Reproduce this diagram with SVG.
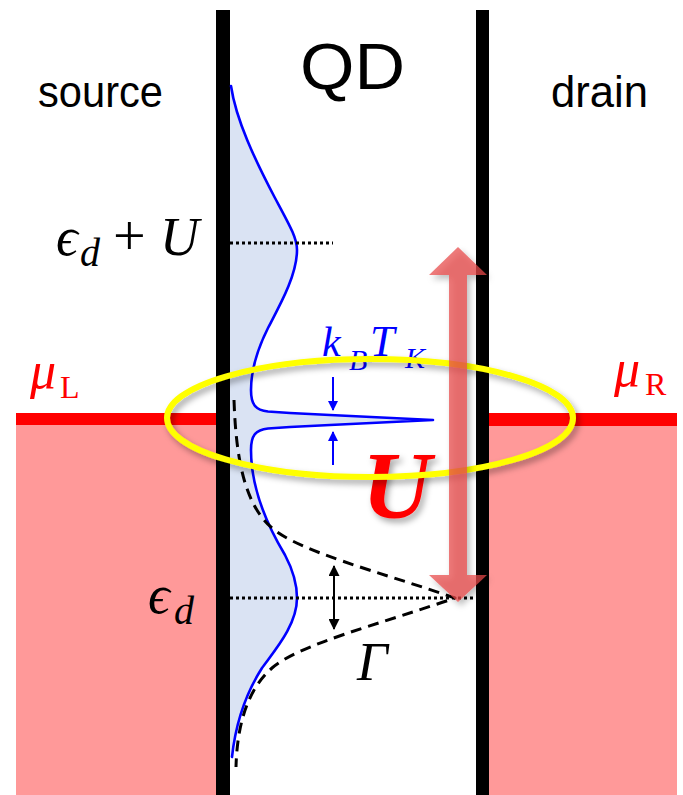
<svg xmlns="http://www.w3.org/2000/svg" width="683" height="795" viewBox="0 0 683 795">
<style>
.sans{font-family:"Liberation Sans",Arial,sans-serif;fill:#000}
.math{font-family:"Liberation Serif","DejaVu Serif",serif;font-style:italic}
.rom{font-family:"Liberation Serif","DejaVu Serif",serif;font-style:normal}
.wall{fill:#000}
.dot{stroke:#000;stroke-width:3;stroke-dasharray:3 3;fill:none}
</style>
<defs>
<filter id="sh" x="-20%" y="-20%" width="140%" height="140%">
<feDropShadow dx="3" dy="4" stdDeviation="3" flood-color="#000" flood-opacity="0.35"/>
</filter>
<marker id="bh" viewBox="0 0 10 10" refX="9" refY="5" markerWidth="10" markerHeight="10" markerUnits="userSpaceOnUse" orient="auto">
<path d="M0,0 L10,5 L0,10 z" fill="#0000ff"/>
</marker>
<marker id="kh" viewBox="0 0 10 10" refX="9" refY="5" markerWidth="12" markerHeight="11" markerUnits="userSpaceOnUse" orient="auto-start-reverse">
<path d="M0,0 L10,5 L0,10 z" fill="#000"/>
</marker>
</defs>
<rect width="683" height="795" fill="#fff"/>

<g id="leads">
<rect x="16" y="425" width="200" height="370" fill="#ff9999"/>
<rect x="489" y="426" width="188" height="369" fill="#ff9999"/>
<rect x="16" y="413" width="200" height="12" fill="#ff0000"/>
<rect x="489" y="413" width="188" height="13" fill="#ff0000"/>
</g>

<g id="walls">
<rect class="wall" x="216" y="10" width="14" height="785"/>
<rect class="wall" x="476" y="10" width="13" height="785"/>
</g>

<g id="dos">
<path fill="#dae3f3" d="M230,86 L231,86 C236,120 255,160 275,198 C290,226 297,238 297,250 C297,275 280,305 268,328 C258,348 251,370 251,390 C251,404 255,410 268,411.5 L290,413 L330,415 L433,420 L330,425 L290,427 L268,428.5 C255,430 251,436 251,450 C251,490 270,530 285,555 C294,572 297,585 297,598 C297,625 275,650 262,668 C248,690 236,720 232,757 L230,757 Z"/>
<path fill="none" stroke="#0000ff" stroke-width="2.6" stroke-linejoin="round" stroke-linecap="round" d="M231,86 C236,120 255,160 275,198 C290,226 297,238 297,250 C297,275 280,305 268,328 C258,348 251,370 251,390 C251,404 255,410 268,411.5 L290,413 L330,415 L433,420 L330,425 L290,427 L268,428.5 C255,430 251,436 251,450 C251,490 270,530 285,555 C294,572 297,585 297,598 C297,625 275,650 262,668 C248,690 236,720 232,757"/>
</g>

<g id="levels">
<line class="dot" x1="230" y1="243" x2="333" y2="243"/>
<line class="dot" x1="230" y1="598" x2="474" y2="598"/>
</g>

<g id="lorentzian">
<path fill="none" stroke="#000" stroke-width="3" stroke-dasharray="11 7" stroke-linejoin="round" d="M234,400 C236,460 245,505 272,528 C300,552 380,572 455,598 C380,624 300,644 272,668 C245,692 237,730 236,767"/>
</g>

<g id="connectors">
<line x1="333" y1="377" x2="333" y2="410" stroke="#0000ff" stroke-width="2" marker-end="url(#bh)"/>
<line x1="333" y1="465" x2="333" y2="432" stroke="#0000ff" stroke-width="2" marker-end="url(#bh)"/>
<line x1="334" y1="566" x2="334" y2="629" stroke="#000" stroke-width="2" marker-start="url(#kh)" marker-end="url(#kh)"/>
</g>

<g id="U-label" filter="url(#sh)">
<text x="362" y="518" font-family="Liberation Serif,serif" font-style="italic" font-weight="bold" font-size="96" fill="#ff0000">U</text>
</g>

<g id="kondo-label">
<text class="math" x="322" y="356" font-size="42" fill="#0000ff">k</text>
<text class="math" x="349" y="370" font-size="30" fill="#0000ff">B</text>
<text class="math" x="370" y="356" font-size="44" fill="#0000ff">T</text>
<text class="math" x="405" y="368" font-size="30" fill="#0000ff">K</text>
</g>

<g id="kondo-ring">
<ellipse cx="370" cy="418" rx="203" ry="59" fill="none" stroke="#ffff00" stroke-width="6" filter="url(#sh)"/>
</g>

<g id="U-arrow" filter="url(#sh)">
<path d="M458,247 L487,275 L467,275 L467,575 L487,575 L458,602 L429,575 L449,575 L449,275 L429,275 Z" fill="#e84a4a" fill-opacity="0.72"/>
</g>

<g id="title">
<text class="sans" x="300" y="89" font-size="64" textLength="105" lengthAdjust="spacingAndGlyphs">QD</text>
</g>
<g id="source">
<text class="sans" x="38" y="107" font-size="44" textLength="125" lengthAdjust="spacingAndGlyphs">source</text>
</g>
<g id="drain">
<text class="sans" x="551" y="107" font-size="44" textLength="97" lengthAdjust="spacingAndGlyphs">drain</text>
</g>

<g id="level-upper">
<text class="math" x="56" y="255" font-size="54">ϵ</text>
<text class="math" x="80" y="266" font-size="40">d</text>
<text class="rom" x="113" y="255" font-size="58">+</text>
<text class="math" x="160" y="255" font-size="54">U</text>
</g>
<g id="level-lower">
<text class="math" x="148" y="613" font-size="54">ϵ</text>
<text class="math" x="174" y="624" font-size="40">d</text>
</g>

<g id="mu-L">
<text class="math" x="30" y="388" font-size="52" fill="#ff0000">μ</text>
<text class="rom" x="60" y="398" font-size="32" fill="#ff0000">L</text>
</g>
<g id="mu-R">
<text class="math" x="614" y="386" font-size="52" fill="#ff0000">μ</text>
<text class="rom" x="645" y="395" font-size="32" fill="#ff0000">R</text>
</g>
<g id="gamma">
<text class="math" x="357" y="680" font-size="54">Γ</text>
</g>
</svg>
